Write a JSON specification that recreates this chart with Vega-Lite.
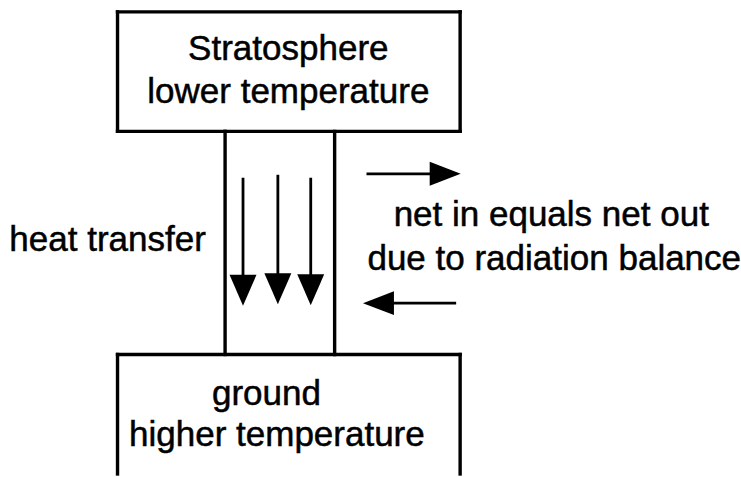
{
  "$schema": "https://vega.github.io/schema/vega-lite/v6.json",
  "width": 741,
  "height": 477,
  "padding": 0,
  "autosize": {"type": "fit", "contains": "padding"},
  "background": "white",
  "config": {"view": {"stroke": null}},
  "datasets": {
    "lines": [
      {"group": "box", "x": 118, "y": 12, "x2": 462, "y2": 12},
      {"group": "box", "x": 462, "y": 12, "x2": 462, "y2": 133},
      {"group": "box", "x": 118, "y": 133, "x2": 462, "y2": 133},
      {"group": "box", "x": 118, "y": 12, "x2": 118, "y2": 133},
      {"group": "box", "x": 118, "y": 359, "x2": 462, "y2": 359},
      {"group": "box", "x": 462, "y": 359, "x2": 462, "y2": 480},
      {"group": "box", "x": 118, "y": 359, "x2": 118, "y2": 480},
      {"group": "box", "x": 226, "y": 133, "x2": 226, "y2": 359},
      {"group": "box", "x": 336, "y": 133, "x2": 336, "y2": 359},
      {"group": "shaft", "x": 244, "y": 180, "x2": 244, "y2": 282},
      {"group": "shaft", "x": 279, "y": 177, "x2": 279, "y2": 282},
      {"group": "shaft", "x": 312, "y": 180, "x2": 312, "y2": 282},
      {"group": "shaft", "x": 368, "y": 176, "x2": 436, "y2": 176},
      {"group": "shaft", "x": 392, "y": 307, "x2": 458, "y2": 307}
    ],
    "heads": [
      {"dir": "down", "x": 244, "y": 294},
      {"dir": "down", "x": 279, "y": 292.5},
      {"dir": "down", "x": 312, "y": 293.5},
      {"dir": "right", "x": 447, "y": 176},
      {"dir": "left", "x": 380, "y": 307}
    ],
    "labels": [
      {"text": "Stratosphere", "x": 289.5, "y": 61},
      {"text": "lower temperature", "x": 289.5, "y": 104},
      {"text": "ground", "x": 267.5, "y": 410},
      {"text": "higher temperature", "x": 278, "y": 452},
      {"text": "heat transfer", "x": 108, "y": 254},
      {"text": "net in equals net out", "x": 553.5, "y": 229},
      {"text": "due to radiation balance", "x": 556.5, "y": 273}
    ]
  },
  "layer": [
    {
      "data": {"name": "lines"},
      "transform": [{"filter": "datum.group === 'box'"}],
      "mark": {"type": "rule", "color": "black", "strokeWidth": 3.4, "strokeCap": "square"},
      "encoding": {
        "x": {"field": "x", "type": "quantitative", "scale": {"domain": [0, 741], "nice": false, "zero": false}, "axis": null},
        "y": {"field": "y", "type": "quantitative", "scale": {"domain": [0, 477], "nice": false, "zero": false, "reverse": true}, "axis": null},
        "x2": {"field": "x2"},
        "y2": {"field": "y2"}
      }
    },
    {
      "data": {"name": "lines"},
      "transform": [{"filter": "datum.group === 'shaft'"}],
      "mark": {"type": "rule", "color": "black", "strokeWidth": 2.8},
      "encoding": {
        "x": {"field": "x", "type": "quantitative", "scale": {"domain": [0, 741], "nice": false, "zero": false}, "axis": null},
        "y": {"field": "y", "type": "quantitative", "scale": {"domain": [0, 477], "nice": false, "zero": false, "reverse": true}, "axis": null},
        "x2": {"field": "x2"},
        "y2": {"field": "y2"}
      }
    },
    {
      "data": {"name": "heads"},
      "mark": {"type": "point", "filled": true, "fill": "black", "opacity": 1, "size": 960, "strokeWidth": 0},
      "encoding": {
        "x": {"field": "x", "type": "quantitative", "scale": {"domain": [0, 741], "nice": false, "zero": false}, "axis": null},
        "y": {"field": "y", "type": "quantitative", "scale": {"domain": [0, 477], "nice": false, "zero": false, "reverse": true}, "axis": null},
        "shape": {
          "field": "dir",
          "type": "nominal",
          "scale": {
            "domain": ["down", "right", "left"],
            "range": ["M -0.87 -1 L 0.87 -1 L 0 1 Z", "M -1 -0.77 L 1 0 L -1 0.77 Z", "M 1 -0.77 L -1 0 L 1 0.77 Z"]
          },
          "legend": null
        }
      }
    },
    {
      "data": {"name": "labels"},
      "mark": {"type": "text", "font": "Liberation Sans", "fontSize": 35, "color": "black", "stroke": "black", "strokeWidth": 0.5, "align": "center", "baseline": "alphabetic"},
      "encoding": {
        "x": {"field": "x", "type": "quantitative", "scale": {"domain": [0, 741], "nice": false, "zero": false}, "axis": null},
        "y": {"field": "y", "type": "quantitative", "scale": {"domain": [0, 477], "nice": false, "zero": false, "reverse": true}, "axis": null},
        "text": {"field": "text", "type": "nominal"}
      }
    }
  ]
}
